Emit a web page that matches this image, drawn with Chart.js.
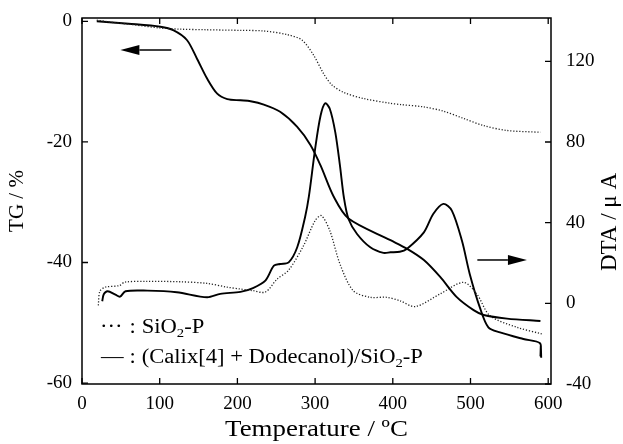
<!DOCTYPE html>
<html>
<head>
<meta charset="utf-8">
<script src="https://cdn.jsdelivr.net/npm/chart.js@4.4.1/dist/chart.umd.min.js"></script>
<style>
  html, body { margin: 0; padding: 0; background: #fff; }
  canvas { display: block; }
</style>
</head>
<body>
<canvas id="c" width="623" height="444"></canvas>
<script>
// Axis tick values
const tempTicks = [0, 100, 200, 300, 400, 500, 600];
const tgTicks = [0, -20, -40, -60];
const dtaTicks = [-40, 0, 40, 80, 120];

// TG of SiO2-P (%, left axis)
const tgSilicaT = [19, 40, 62, 100, 126, 160, 204, 234, 264, 283, 298, 311, 322, 337, 362, 397, 410, 440, 465, 491, 517, 547, 590];
const tgSilicaV = [0.2, -0.2, -0.5, -1.1, -1.3, -1.4, -1.5, -1.6, -2.2, -3.1, -5.6, -8.7, -10.6, -11.8, -12.8, -13.6, -13.8, -14.2, -14.9, -16.1, -17.3, -18.1, -18.4];

// TG of (Calix[4] + Dodecanol)/SiO2-P (%, left axis)
const tgCalixT = [19, 60, 101, 118, 135, 148, 161, 174, 187, 204, 217, 234, 255, 277, 294, 307, 324, 343, 397, 418, 440, 461, 482, 504, 517, 547, 590];
const tgCalixV = [0, -0.4, -0.9, -1.5, -3.1, -6.2, -9.5, -12.0, -12.9, -13.1, -13.25, -13.8, -15.0, -17.5, -20.5, -23.9, -29.1, -32.7, -36.3, -37.7, -39.6, -42.4, -45.7, -47.9, -48.7, -49.3, -49.7];

// DTA of SiO2-P (µA, right axis)
const dtaSilicaT = [21, 23, 30, 48, 55, 84, 126, 161, 187, 204, 220, 236, 251, 266, 285, 300, 308, 319, 332, 349, 371, 392, 409, 429, 461, 491, 508, 525, 560, 592];
const dtaSilicaV = [-1, 6, 8, 8.8, 10.5, 10.9, 10.7, 9.9, 8, 7.1, 6.3, 5.6, 12, 16.5, 28.5, 41, 43.5, 36, 19.5, 6.3, 3, 3, 1.3, -1.6, 4.7, 10.4, 4.7, -6.1, -11.9, -15.2];

// DTA of (Calix[4] + Dodecanol)/SiO2-P (µA, right axis)
const dtaCalixT = [26, 28, 33, 43, 49, 56, 84, 122, 161, 178, 204, 220, 236, 247, 255, 266, 277, 287, 292, 300, 307, 313, 319, 326, 332, 337, 343, 354, 371, 388, 397, 409, 418, 440, 452, 465, 476, 489, 499, 512, 523, 538, 568, 589.5, 590, 590.5, 591];
const dtaCalixV = [1, 4.5, 6, 4.3, 3.3, 6, 6.3, 5.5, 3, 4.7, 5.7, 7.6, 11.3, 18.7, 19.5, 20.3, 27.8, 42.6, 53, 76.5, 93, 99.2, 96.4, 84.8, 68.3, 52.6, 41.8, 34.4, 27.8, 25, 25.3, 25.6, 27, 35.2, 44.3, 49.3, 46, 31, 14.6, -2, -11.9, -14.4, -17.7, -19.8, -26, -21, -27];

const pts = (xs, ys) => xs.map((x, i) => ({ x: x, y: ys[i] }));

const SERIF = '"Liberation Serif", "Times New Roman", serif';

// Direction arrows: which axis each curve group belongs to
const arrows = [
  { axis: 'yTG',  from: 115, to: 49.4, value: -4.76 },
  { axis: 'yDTA', from: 508.8, to: 572.6, value: 21.5 }
];

// Frame with inward tick marks on all four sides, plus the arrows
const framePlugin = {
  id: 'frame',
  afterDatasetsDraw(chart) {
    const { ctx, chartArea: a, scales } = chart;
    const L = 6;
    ctx.save();
    ctx.strokeStyle = '#000';
    ctx.lineWidth = 1.5;
    ctx.strokeRect(a.left, a.top, a.right - a.left, a.bottom - a.top);
    ctx.lineWidth = 1.3;
    ctx.beginPath();
    tempTicks.forEach(v => {
      const x = scales.x.getPixelForValue(v);
      ctx.moveTo(x, a.bottom); ctx.lineTo(x, a.bottom - L);
      ctx.moveTo(x, a.top); ctx.lineTo(x, a.top + L);
    });
    tgTicks.forEach(v => {
      const y = scales.yTG.getPixelForValue(v);
      ctx.moveTo(a.left, y); ctx.lineTo(a.left + L, y);
    });
    dtaTicks.forEach(v => {
      const y = scales.yDTA.getPixelForValue(v);
      ctx.moveTo(a.right, y); ctx.lineTo(a.right - L, y);
    });
    ctx.stroke();

    arrows.forEach(ar => {
      const y = scales[ar.axis].getPixelForValue(ar.value);
      const x0 = scales.x.getPixelForValue(ar.from);
      const x1 = scales.x.getPixelForValue(ar.to);
      const dir = Math.sign(x1 - x0);
      const head = 19, half = 5;
      ctx.lineWidth = 1.5;
      ctx.beginPath();
      ctx.moveTo(x0, y); ctx.lineTo(x1 - dir * head, y);
      ctx.stroke();
      ctx.fillStyle = '#000';
      ctx.beginPath();
      ctx.moveTo(x1, y);
      ctx.lineTo(x1 - dir * head, y - half);
      ctx.lineTo(x1 - dir * head, y + half);
      ctx.closePath();
      ctx.fill();
    });
    ctx.restore();
  }
};

// Temperature title, right-hand axis title (reads bottom to top) and the key
const textPlugin = {
  id: 'texts',
  afterDraw(chart) {
    const ctx = chart.ctx;
    const a = chart.chartArea;

    const put = (s, x, y, size, sx) => {
      ctx.save();
      ctx.font = size + 'px ' + SERIF;
      ctx.translate(x, y);
      ctx.scale(sx, 1);
      ctx.fillText(s, 0, 0);
      const w = ctx.measureText(s).width * sx;
      ctx.restore();
      return x + w;
    };

    ctx.save();
    ctx.fillStyle = '#000';
    ctx.textBaseline = 'middle';
    ctx.textAlign = 'center';
    put('Temperature / ºC', (a.left + a.right) / 2, 430, 23, 1.17);
    ctx.font = '23px ' + SERIF;
    ctx.translate(610, 222);
    ctx.rotate(-Math.PI / 2);
    ctx.fillText('DTA / μ A', 0, 0);
    ctx.restore();

    const sx = 1.13;
    ctx.save();
    ctx.fillStyle = '#000';
    ctx.textBaseline = 'alphabetic';
    ctx.textAlign = 'left';
    const keyLines = [
      { mark: 'dots', label: 'SiO', y: 333 },
      { mark: 'dash', label: '(Calix[4] + Dodecanol)/SiO', y: 363 }
    ];
    keyLines.forEach(k => {
      if (k.mark === 'dots') {
        put('·', 100, k.y, 20, sx); put('·', 107.5, k.y, 20, sx); put('·', 115, k.y, 20, sx);
      } else {
        put('—', 101, k.y, 20, sx);
      }
      put(':', 129.5, k.y, 20, sx);
      let x = put(k.label, 141.7, k.y, 20, sx);
      x = put('2', x, k.y + 4, 13, sx);
      put('-P', x, k.y, 20, sx);
    });
    ctx.restore();
  }
};

const noOverflow = s => { s.paddingTop = 0; s.paddingBottom = 0; };

new Chart(document.getElementById('c'), {
  type: 'line',
  data: {
    datasets: [
      { label: 'TG SiO2-P', data: pts(tgSilicaT, tgSilicaV), yAxisID: 'yTG',
        borderColor: '#222', borderWidth: 1.3, borderDash: [1.2, 1.8] },
      { label: 'TG Calix', data: pts(tgCalixT, tgCalixV), yAxisID: 'yTG',
        borderColor: '#000', borderWidth: 1.9 },
      { label: 'DTA SiO2-P', data: pts(dtaSilicaT, dtaSilicaV), yAxisID: 'yDTA',
        borderColor: '#222', borderWidth: 1.3, borderDash: [1.2, 1.8] },
      { label: 'DTA Calix', data: pts(dtaCalixT, dtaCalixV), yAxisID: 'yDTA',
        borderColor: '#000', borderWidth: 1.9 }
    ]
  },
  options: {
    responsive: false,
    devicePixelRatio: 1,
    animation: false,
    layout: { padding: { top: 18, right: 0, bottom: 0, left: 0 } },
    elements: { point: { radius: 0 }, line: { tension: 0.3, fill: false } },
    plugins: { legend: { display: false }, tooltip: { enabled: false } },
    scales: {
      x: {
        type: 'linear', position: 'bottom', min: 0, max: 603.6,
        afterBuildTicks: s => { s.ticks = tempTicks.map(v => ({ value: v })); },
        afterFit: s => { s.height = 60; },
        grid: { display: false, drawTicks: false }, border: { display: false },
        ticks: { color: '#000', padding: 9, maxRotation: 0, font: { family: SERIF, size: 19 } }
      },
      yTG: {
        type: 'linear', position: 'left', min: -60.15, max: 0.55,
        afterBuildTicks: s => { s.ticks = tgTicks.map(v => ({ value: v })); },
        afterFit: s => { s.width = 82; noOverflow(s); },
        grid: { display: false, drawTicks: false }, border: { display: false },
        ticks: { color: '#000', padding: 10, font: { family: SERIF, size: 19 } },
        title: { display: true, text: 'TG / %', color: '#000',
                 padding: { top: 5, bottom: 0 }, font: { family: SERIF, size: 21 } }
      },
      yDTA: {
        type: 'linear', position: 'right', min: -40, max: 141.5,
        afterBuildTicks: s => { s.ticks = dtaTicks.map(v => ({ value: v })); },
        afterFit: s => { s.width = 72; noOverflow(s); },
        grid: { display: false, drawTicks: false }, border: { display: false },
        ticks: { color: '#000', padding: 15, font: { family: SERIF, size: 19 } }
      }
    }
  },
  plugins: [framePlugin, textPlugin]
});
</script>
</body>
</html>
